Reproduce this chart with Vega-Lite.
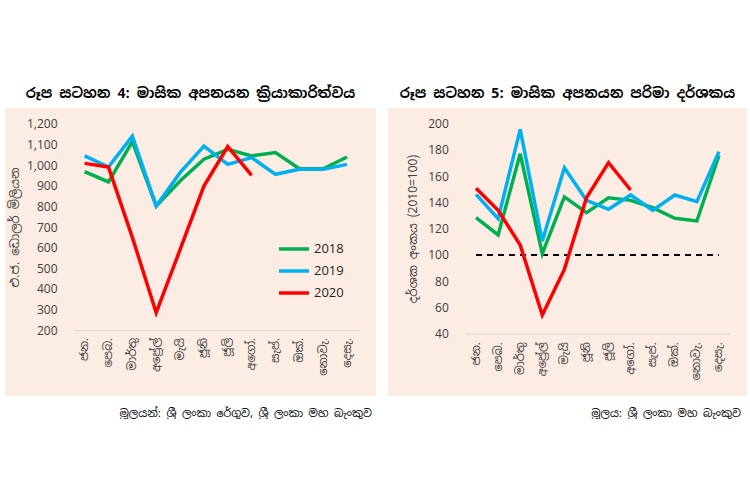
{
  "$schema": "https://vega.github.io/schema/vega-lite/v6.json",
  "padding": {"left": 5, "top": 87, "right": 0, "bottom": 0},
  "background": "white",
  "spacing": 12,
  "datasets": {
    "exports": [
      {"month": "ජන.", "year": "2018", "value": 968},
      {"month": "පෙබ.", "year": "2018", "value": 918},
      {"month": "මාර්තු", "year": "2018", "value": 1113},
      {"month": "අප්‍රේල්", "year": "2018", "value": 802},
      {"month": "මැයි", "year": "2018", "value": 923},
      {"month": "ජූනි", "year": "2018", "value": 1028},
      {"month": "ජූලි", "year": "2018", "value": 1076},
      {"month": "අගෝ.", "year": "2018", "value": 1044},
      {"month": "සැප්.", "year": "2018", "value": 1060},
      {"month": "ඔක්.", "year": "2018", "value": 982},
      {"month": "නොවැ.", "year": "2018", "value": 982},
      {"month": "දෙසැ.", "year": "2018", "value": 1039},
      {"month": "ජන.", "year": "2019", "value": 1044},
      {"month": "පෙබ.", "year": "2019", "value": 990},
      {"month": "මාර්තු", "year": "2019", "value": 1140},
      {"month": "අප්‍රේල්", "year": "2019", "value": 802},
      {"month": "මැයි", "year": "2019", "value": 963},
      {"month": "ජූනි", "year": "2019", "value": 1092},
      {"month": "ජූලි", "year": "2019", "value": 1003},
      {"month": "අගෝ.", "year": "2019", "value": 1036},
      {"month": "සැප්.", "year": "2019", "value": 955},
      {"month": "ඔක්.", "year": "2019", "value": 979},
      {"month": "නොවැ.", "year": "2019", "value": 979},
      {"month": "දෙසැ.", "year": "2019", "value": 1003},
      {"month": "ජන.", "year": "2020", "value": 1008},
      {"month": "පෙබ.", "year": "2020", "value": 990},
      {"month": "මාර්තු", "year": "2020", "value": 650},
      {"month": "අප්‍රේල්", "year": "2020", "value": 285},
      {"month": "මැයි", "year": "2020", "value": 590},
      {"month": "ජූනි", "year": "2020", "value": 898},
      {"month": "ජූලි", "year": "2020", "value": 1089},
      {"month": "අගෝ.", "year": "2020", "value": 950}
    ],
    "volume": [
      {"month": "ජන.", "year": "2018", "value": 128.4},
      {"month": "පෙබ.", "year": "2018", "value": 115.2},
      {"month": "මාර්තු", "year": "2018", "value": 177.1},
      {"month": "අප්‍රේල්", "year": "2018", "value": 101.0},
      {"month": "මැයි", "year": "2018", "value": 144.2},
      {"month": "ජූනි", "year": "2018", "value": 132.2},
      {"month": "ජූලි", "year": "2018", "value": 143.6},
      {"month": "අගෝ.", "year": "2018", "value": 141.6},
      {"month": "සැප්.", "year": "2018", "value": 136.0},
      {"month": "ඔක්.", "year": "2018", "value": 127.9},
      {"month": "නොවැ.", "year": "2018", "value": 125.9},
      {"month": "දෙසැ.", "year": "2018", "value": 175.9},
      {"month": "ජන.", "year": "2019", "value": 146.2},
      {"month": "පෙබ.", "year": "2019", "value": 127.6},
      {"month": "මාර්තු", "year": "2019", "value": 195.7},
      {"month": "අප්‍රේල්", "year": "2019", "value": 110.6},
      {"month": "මැයි", "year": "2019", "value": 166.5},
      {"month": "ජූනි", "year": "2019", "value": 141.6},
      {"month": "ජූලි", "year": "2019", "value": 134.8},
      {"month": "අගෝ.", "year": "2019", "value": 145.7},
      {"month": "සැප්.", "year": "2019", "value": 134.0},
      {"month": "ඔක්.", "year": "2019", "value": 145.7},
      {"month": "නොවැ.", "year": "2019", "value": 140.6},
      {"month": "දෙසැ.", "year": "2019", "value": 178.7},
      {"month": "ජන.", "year": "2020", "value": 150.8},
      {"month": "පෙබ.", "year": "2020", "value": 134.0},
      {"month": "මාර්තු", "year": "2020", "value": 107.6},
      {"month": "අප්‍රේල්", "year": "2020", "value": 54.2},
      {"month": "මැයි", "year": "2020", "value": 89.0},
      {"month": "ජූනි", "year": "2020", "value": 143.6},
      {"month": "ජූලි", "year": "2020", "value": 170.3},
      {"month": "අගෝ.", "year": "2020", "value": 149.5}
    ],
    "base": [
      {"month": "ජන.", "value": 100},
      {"month": "දෙසැ.", "value": 100}
    ]
  },
  "hconcat": [
    {
      "title": {"text": "මූලයන්: ශ්‍රී ලංකා රේගුව, ශ්‍රී ලංකා මහ බැංකුව", "orient": "bottom", "anchor": "end", "dx": -4, "fontSize": 11, "fontWeight": "normal", "offset": 12, "color": "#000000", "font": "Noto Sans Sinhala, Noto Sans, sans-serif"},
      "vconcat": [
        {
          "title": {"text": "රූප සටහන 4: මාසික අපනයන ක්‍රියාකාරිත්වය", "anchor": "middle", "fontSize": 14, "fontWeight": "bold", "offset": 7, "color": "#000000", "font": "Noto Sans Sinhala, Noto Sans, sans-serif"},
          "width": 371,
          "height": 288,
          "view": {"fill": "#fbede4", "stroke": null},
          "data": {"name": "exports"},
          "mark": {"type": "line", "strokeWidth": 3.5},
          "encoding": {
            "x": {
              "field": "month", "type": "ordinal",
              "scale": {"type": "point", "domain": ["ජන.", "පෙබ.", "මාර්තු", "අප්‍රේල්", "මැයි", "ජූනි", "ජූලි", "අගෝ.", "සැප්.", "ඔක්.", "නොවැ.", "දෙසැ."], "range": [67.7, 354], "padding": 0.5},
              "axis": {"title": null, "offset": -65.7, "labelAngle": -90, "labelPadding": 7, "ticks": false, "grid": false, "domain": true, "domainColor": "#d9d9d9", "domainWidth": 1, "labelFontSize": 11.5, "labelColor": "#404040", "labelFont": "Noto Sans Sinhala, Noto Sans, sans-serif"}
            },
            "y": {
              "field": "value", "type": "quantitative",
              "scale": {"domain": [200, 1200], "range": [222.3, 15.7], "nice": false, "zero": false},
              "axis": {"title": "එ.ජ. ඩොලර් මිලියන", "values": [200, 300, 400, 500, 600, 700, 800, 900, 1000, 1100, 1200], "format": ",.0f", "offset": -52, "labelPadding": 0, "ticks": false, "grid": false, "domain": false, "labelFontSize": 12, "labelColor": "#404040", "labelFont": "Open Sans", "titleFont": "Noto Sans Sinhala, Noto Sans, sans-serif", "titleFontSize": 12, "titleFontWeight": "normal", "titleColor": "#404040", "titlePadding": 5}
            },
            "color": {
              "field": "year", "type": "nominal",
              "scale": {"domain": ["2018", "2019", "2020"], "range": ["#00b050", "#00b0f0", "#ff0000"]},
              "legend": {"title": null, "orient": "none", "legendX": 272, "legendY": 130, "symbolType": "stroke", "symbolSize": 900, "symbolStrokeWidth": 3.5, "clipHeight": 22, "rowPadding": 0, "labelFontSize": 13, "labelColor": "#262626", "labelFont": "Open Sans", "labelOffset": 3}
            }
          }
        }
      ]
    },
    {
      "title": {"text": "මූලය: ශ්‍රී ලංකා මහ බැංකුව", "orient": "bottom", "anchor": "end", "dx": -6, "fontSize": 11, "fontWeight": "normal", "offset": 12, "color": "#000000", "font": "Noto Sans Sinhala, Noto Sans, sans-serif"},
      "vconcat": [
        {
          "title": {"text": "රූප සටහන 5: මාසික අපනයන පරිමා දර්ශකය", "anchor": "middle", "fontSize": 14, "fontWeight": "bold", "offset": 7, "color": "#000000", "font": "Noto Sans Sinhala, Noto Sans, sans-serif"},
          "width": 359,
          "height": 288,
          "view": {"fill": "#fbede4", "stroke": null},
          "encoding": {
            "x": {
              "field": "month", "type": "ordinal",
              "scale": {"type": "point", "domain": ["ජන.", "පෙබ.", "මාර්තු", "අප්‍රේල්", "මැයි", "ජූනි", "ජූලි", "අගෝ.", "සැප්.", "ඔක්.", "නොවැ.", "දෙසැ."], "range": [77, 342], "padding": 0.5},
              "axis": {"title": null, "offset": -62.3, "labelAngle": -90, "labelPadding": 8, "ticks": false, "grid": false, "domain": true, "domainColor": "#d9d9d9", "domainWidth": 1, "labelFontSize": 11.5, "labelColor": "#404040", "labelFont": "Noto Sans Sinhala, Noto Sans, sans-serif"}
            },
            "y": {
              "field": "value", "type": "quantitative",
              "scale": {"domain": [40, 200], "range": [225.7, 15.7], "nice": false, "zero": false},
              "axis": {"title": "දර්ශක අංකය (2010=100)", "values": [40, 60, 80, 100, 120, 140, 160, 180, 200], "offset": -60.3, "labelPadding": 0, "ticks": false, "grid": false, "domain": false, "labelFontSize": 12, "labelColor": "#404040", "labelFont": "Open Sans", "titleFont": "Noto Sans Sinhala, Noto Sans, sans-serif", "titleFontSize": 12, "titleFontWeight": "normal", "titleColor": "#404040", "titlePadding": 8}
            }
          },
          "layer": [
            {
              "data": {"name": "base"},
              "mark": {"type": "line", "color": "#000000", "strokeWidth": 2, "strokeDash": [6, 5]}
            },
            {
              "data": {"name": "volume"},
              "mark": {"type": "line", "strokeWidth": 3.5},
              "encoding": {
                "color": {
                  "field": "year", "type": "nominal",
                  "scale": {"domain": ["2018", "2019", "2020"], "range": ["#00b050", "#00b0f0", "#ff0000"]},
                  "legend": {"title": null, "orient": "none", "legendX": 244, "legendY": 3, "symbolType": "stroke", "symbolSize": 900, "symbolStrokeWidth": 3.5, "clipHeight": 23, "rowPadding": 0, "labelFontSize": 13, "labelColor": "#262626", "labelFont": "Open Sans", "labelOffset": 3}
                }
              }
            }
          ]
        }
      ]
    }
  ],
  "config": {
    "view": {"stroke": null},
    "concat": {"spacing": 12}
  }
}
